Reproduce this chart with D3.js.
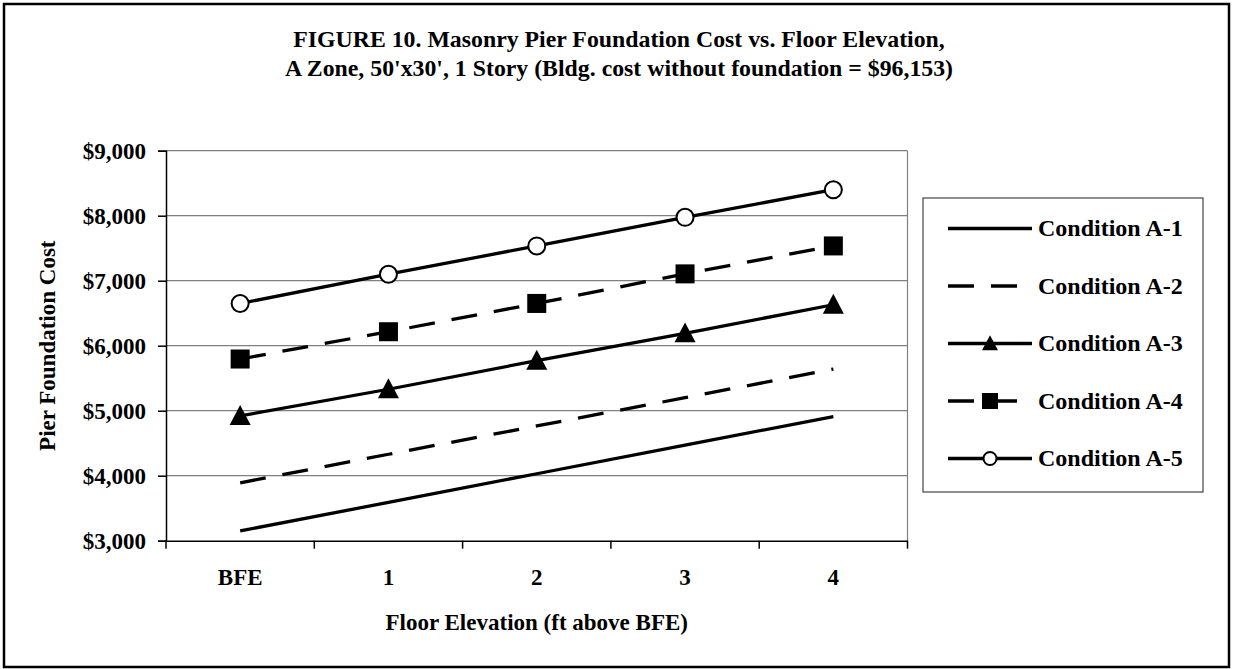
<!DOCTYPE html>
<html>
<head>
<meta charset="utf-8">
<script src="https://cdn.jsdelivr.net/npm/d3@7"></script>
<style>
  body { margin: 0; background: #fff; }
  svg text { font-family: "Liberation Serif", "Times New Roman", serif; font-weight: bold; fill: #000; }
</style>
</head>
<body>
<script>
// data
const categories = ["BFE", "1", "2", "3", "4"]
const seriesNames = ["Condition A-1", "Condition A-2", "Condition A-3", "Condition A-4", "Condition A-5"]
const condA1 = [3150, 3590, 4030, 4470, 4910]
const condA2 = [3890, 4330, 4765, 5200, 5640]
const condA3 = [4920, 5330, 5770, 6190, 6630]
const condA4 = [5795, 6215, 6650, 7105, 7535]
const condA5 = [6650, 7100, 7535, 7975, 8400]
const yTicks = [3000, 4000, 5000, 6000, 7000, 8000, 9000]
const titleLines = [
  "FIGURE 10. Masonry Pier Foundation Cost vs. Floor Elevation,",
  "A Zone, 50'x30', 1 Story (Bldg. cost without foundation = $96,153)"
]

const series = [
  {name: seriesNames[0], values: condA1, dash: null, marker: null},
  {name: seriesNames[1], values: condA2, dash: "26,17", marker: null},
  {name: seriesNames[2], values: condA3, dash: null, marker: "triangle"},
  {name: seriesNames[3], values: condA4, dash: "26,17", marker: "square"},
  {name: seriesNames[4], values: condA5, dash: null, marker: "circle"}
]

const W = 1233, H = 669
const plot = {left: 166, right: 907.5, top: 150.7, bottom: 540.7}

const svg = d3.select("body").append("svg")
  .attr("width", W)
  .attr("height", H)

// outer frame
svg.append("rect")
  .attr("x", 4).attr("y", 4)
  .attr("width", 1225).attr("height", 663)
  .attr("fill", "none").attr("stroke", "#000").attr("stroke-width", 2.5)

// title
svg.append("g").selectAll("text")
  .data(titleLines)
  .enter().append("text")
  .attr("x", 619)
  .attr("y", (d, i) => 46.5 + i * 29.5)
  .attr("text-anchor", "middle")
  .style("font-size", "23.8px")
  .text(d => d)

const x = d3.scaleBand()
  .domain(categories)
  .range([plot.left, plot.right])
  .padding(0)

const y = d3.scaleLinear()
  .domain([3000, 9000])
  .range([plot.bottom, plot.top])

const cx = c => x(c) + x.bandwidth() / 2

// gridlines
svg.append("g").selectAll("line")
  .data(yTicks.slice(1))
  .enter().append("line")
  .attr("x1", plot.left).attr("x2", plot.right)
  .attr("y1", d => y(d)).attr("y2", d => y(d))
  .attr("stroke", "#808080").attr("stroke-width", 1.2)

// plot area right edge
svg.append("line")
  .attr("x1", plot.right).attr("x2", plot.right)
  .attr("y1", plot.top).attr("y2", plot.bottom)
  .attr("stroke", "#808080").attr("stroke-width", 1.2)

// y axis
const yAxis = d3.axisLeft(y)
  .tickValues(yTicks)
  .tickFormat(d3.format("$,"))
  .tickSize(8)
  .tickPadding(12)

const gy = svg.append("g")
  .attr("transform", "translate(" + plot.left + ",0)")
  .call(yAxis)
gy.select(".domain").attr("stroke", "#000").attr("stroke-width", 1.5)
gy.selectAll(".tick line").attr("stroke", "#000").attr("stroke-width", 1.5)
gy.selectAll(".tick text")
  .style("font-size", "23px")
  .style("font-family", "'Liberation Serif', serif")
  .attr("dy", "0.32em")

// x axis
const xAxis = d3.axisBottom(x).tickSize(0).tickPadding(28)
const gx = svg.append("g")
  .attr("transform", "translate(0," + plot.bottom + ")")
  .call(xAxis)
gx.select(".domain").attr("stroke", "#000").attr("stroke-width", 1.5)
gx.selectAll(".tick text")
  .style("font-size", "23px")
  .style("font-family", "'Liberation Serif', serif")

// category boundary ticks
const bounds = categories.map(c => x(c)).concat([plot.right])
gx.append("g").selectAll("line")
  .data(bounds)
  .enter().append("line")
  .attr("x1", d => d).attr("x2", d => d)
  .attr("y1", 0).attr("y2", 8)
  .attr("stroke", "#000").attr("stroke-width", 1.5)

// axis titles
svg.append("text")
  .attr("x", (plot.left + plot.right) / 2)
  .attr("y", 630)
  .attr("text-anchor", "middle")
  .style("font-size", "23px")
  .text("Floor Elevation (ft above BFE)")

svg.append("text")
  .attr("transform", "translate(55," + ((plot.top + plot.bottom) / 2) + ") rotate(-90)")
  .attr("text-anchor", "middle")
  .style("font-size", "23px")
  .text("Pier Foundation Cost")

// markers
function drawMarker(g, type, size) {
  if (type === "circle") {
    g.append("circle").attr("r", size / 2)
      .attr("fill", "#fff").attr("stroke", "#000").attr("stroke-width", 2)
  } else if (type === "square") {
    g.append("rect")
      .attr("x", -size / 2).attr("y", -size / 2)
      .attr("width", size).attr("height", size)
      .attr("fill", "#000")
  } else if (type === "triangle") {
    const h = size * 0.95
    g.append("path")
      .attr("d", "M0," + (-h * 0.55) + "L" + (size / 2) + "," + (h * 0.45) + "L" + (-size / 2) + "," + (h * 0.45) + "Z")
      .attr("fill", "#000")
  }
}

const line = d3.line()
  .x((d, i) => cx(categories[i]))
  .y(d => y(d))

const gs = svg.append("g").selectAll("g")
  .data(series)
  .enter().append("g")

gs.append("path")
  .attr("d", d => line(d.values))
  .attr("fill", "none")
  .attr("stroke", "#000")
  .attr("stroke-width", 3.3)
  .attr("stroke-dasharray", d => d.dash)

gs.each(function(s) {
  if (!s.marker) return
  const g = d3.select(this)
  s.values.forEach((v, i) => {
    const m = g.append("g").attr("transform", "translate(" + cx(categories[i]) + "," + y(v) + ")")
    drawMarker(m, s.marker, s.marker === "circle" ? 17 : (s.marker === "triangle" ? 21 : 19))
  })
})

// legend
const legend = svg.append("g")
legend.append("rect")
  .attr("x", 923).attr("y", 198)
  .attr("width", 280).attr("height", 294)
  .attr("fill", "#fff").attr("stroke", "#444").attr("stroke-width", 1.2)

const items = legend.selectAll("g.item")
  .data(series)
  .enter().append("g")
  .attr("class", "item")
  .attr("transform", (d, i) => "translate(0," + (228.5 + i * 57.5) + ")")

items.append("line")
  .attr("x1", 948).attr("x2", 1032)
  .attr("y1", 0).attr("y2", 0)
  .attr("stroke", "#000").attr("stroke-width", 3.3)
  .attr("stroke-dasharray", d => d.dash)

items.each(function(s) {
  if (!s.marker) return
  const m = d3.select(this).append("g").attr("transform", "translate(990,0)")
  drawMarker(m, s.marker, s.marker === "circle" ? 13 : 16)
})

items.append("text")
  .attr("x", 1038)
  .attr("y", 0)
  .attr("dy", "0.33em")
  .style("font-size", "24px")
  .text(d => d.name)
</script>
</body>
</html>
